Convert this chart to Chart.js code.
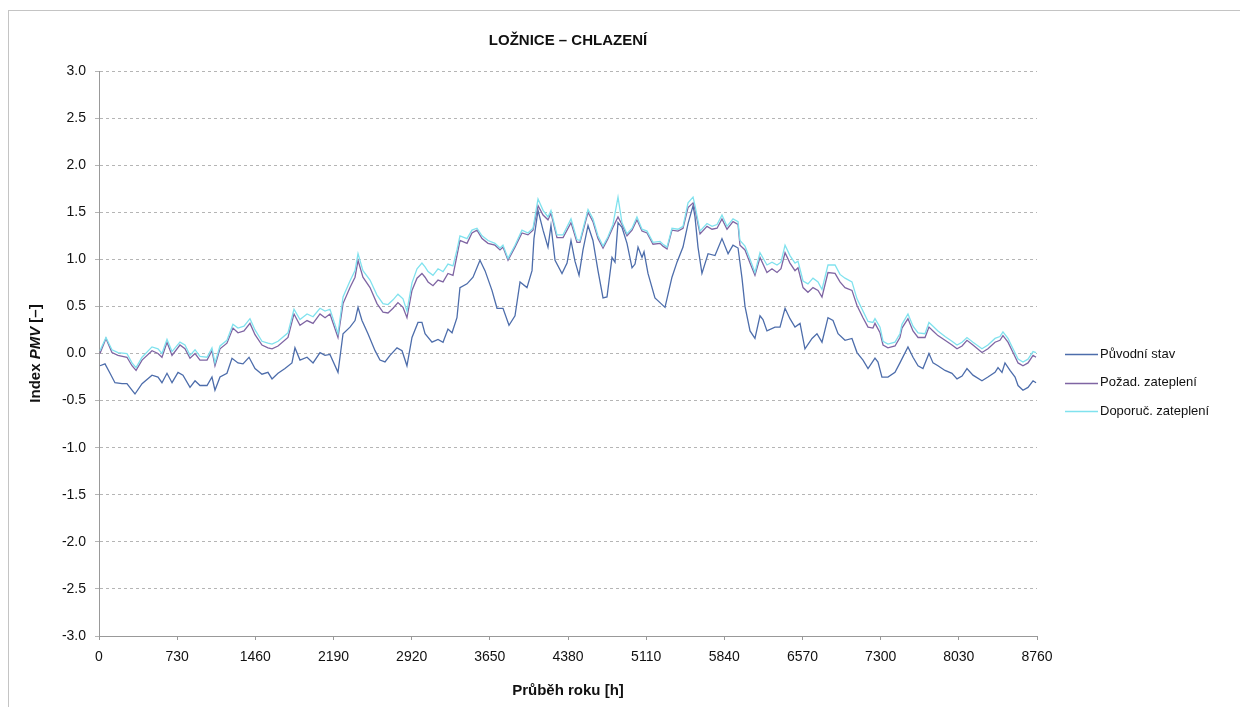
<!DOCTYPE html>
<html><head><meta charset="utf-8">
<script src="https://cdn.jsdelivr.net/npm/chart.js@4.4.1/dist/chart.umd.min.js"></script>
<style>html,body{margin:0;padding:0;background:#fff;}#wrap{width:1240px;height:707px;position:relative;}</style>
</head><body><div id="wrap"><canvas id="c" width="1240" height="707"></canvas></div>
<script>
const chartTitle = 'LOŽNICE – CHLAZENÍ';
const xTitle = 'Průběh roku [h]';
const yTitleParts = ['Index ', 'PMV', ' [–]'];
const seriesNames = ['Původní stav', 'Požad. zateplení', 'Doporuč. zateplení'];
const xTicks = [0,730,1460,2190,2920,3650,4380,5110,5840,6570,7300,8030,8760];
const yMin = -3, yMax = 3, yStep = 0.5;

const hoursA = [9,56,103,149,215,261,308,336,402,495,551,588,635,682,738,784,850,897,943,1009,1055,1083,1130,1195,1242,1298,1345,1401,1457,1522,1578,1616,1672,1737,1802,1830,1877,1943,1999,2064,2111,2157,2232,2279,2344,2391,2419,2456,2512,2578,2624,2671,2718,2783,2830,2876,2923,2979,3016,3045,3110,3166,3213,3259,3297,3343,3371,3437,3493,3558,3605,3670,3717,3773,3829,3885,3932,3997,4044,4062,4100,4147,4193,4221,4259,4324,4371,4408,4445,4483,4520,4567,4613,4660,4707,4744,4791,4819,4847,4884,4931,4978,5006,5034,5071,5090,5127,5192,5239,5286,5351,5398,5454,5501,5548,5566,5594,5631,5688,5753,5818,5875,5921,5968,6005,6033,6080,6126,6173,6201,6238,6313,6360,6407,6453,6500,6547,6593,6659,6705,6752,6808,6855,6902,6967,7032,7079,7135,7182,7247,7275,7312,7368,7434,7480,7555,7602,7649,7695,7751,7789,7835,7901,7966,8013,8060,8106,8162,8246,8302,8368,8396,8433,8461,8508,8555,8583,8629,8676,8723,8751];
const puvodni = [-0.13,-0.11,-0.21,-0.31,-0.32,-0.32,-0.39,-0.43,-0.32,-0.23,-0.25,-0.31,-0.21,-0.31,-0.2,-0.23,-0.36,-0.29,-0.34,-0.34,-0.25,-0.39,-0.25,-0.21,-0.05,-0.1,-0.11,-0.04,-0.16,-0.22,-0.2,-0.27,-0.21,-0.16,-0.1,0.06,-0.07,-0.04,-0.1,0.01,-0.02,-0.01,-0.2,0.21,0.28,0.35,0.49,0.35,0.21,0.03,-0.07,-0.09,-0.02,0.06,0.03,-0.13,0.17,0.33,0.33,0.21,0.12,0.15,0.12,0.26,0.22,0.38,0.70,0.74,0.81,0.99,0.88,0.67,0.48,0.48,0.30,0.40,0.76,0.70,0.88,1.22,1.52,1.31,1.13,1.36,0.99,0.85,0.96,1.2,0.98,0.83,1.1,1.36,1.2,0.88,0.59,0.6,1.02,0.97,1.39,1.34,1.17,0.91,0.95,1.13,1.02,1.08,0.85,0.59,0.54,0.49,0.81,0.97,1.13,1.38,1.57,1.45,1.13,0.85,1.06,1.04,1.22,1.06,1.15,1.12,0.8,0.5,0.24,0.16,0.40,0.36,0.24,0.28,0.28,0.48,0.37,0.28,0.32,0.05,0.16,0.21,0.12,0.38,0.35,0.21,0.14,0.16,0.01,-0.07,-0.16,-0.05,-0.09,-0.25,-0.25,-0.2,-0.1,0.07,-0.04,-0.13,-0.16,0.0,-0.1,-0.13,-0.18,-0.21,-0.27,-0.24,-0.16,-0.23,-0.29,-0.25,-0.2,-0.15,-0.2,-0.1,-0.18,-0.25,-0.34,-0.39,-0.36,-0.29,-0.31];

const hoursB = [9,65,121,177,261,308,346,402,495,551,588,635,682,756,803,850,897,943,1009,1055,1083,1130,1195,1251,1298,1354,1410,1457,1522,1578,1616,1672,1765,1821,1877,1943,1999,2064,2111,2157,2232,2279,2344,2391,2419,2465,2531,2596,2652,2699,2746,2792,2839,2876,2923,2970,3016,3045,3073,3119,3166,3213,3259,3306,3343,3371,3437,3483,3530,3577,3633,3698,3745,3773,3820,3885,3950,4006,4053,4100,4147,4193,4221,4277,4334,4408,4464,4492,4567,4613,4660,4707,4753,4800,4847,4884,4931,4978,5024,5071,5118,5174,5239,5267,5305,5351,5407,5454,5501,5548,5566,5613,5678,5725,5772,5818,5865,5921,5968,5986,6033,6080,6126,6173,6238,6285,6332,6369,6407,6453,6500,6528,6575,6621,6668,6715,6752,6808,6874,6920,6967,7032,7079,7135,7182,7228,7247,7294,7322,7368,7434,7480,7499,7555,7602,7649,7714,7751,7789,7835,7901,7966,8013,8060,8106,8162,8246,8302,8368,8414,8442,8489,8536,8583,8629,8676,8723,8751];
const pozad = [0.0,0.16,0.01,-0.02,-0.04,-0.13,-0.18,-0.07,0.03,0.0,-0.04,0.12,-0.02,0.09,0.05,-0.05,0.0,-0.07,-0.07,0.03,-0.13,0.05,0.11,0.27,0.22,0.24,0.32,0.2,0.09,0.06,0.05,0.08,0.17,0.42,0.3,0.35,0.32,0.42,0.38,0.42,0.17,0.53,0.70,0.81,0.99,0.81,0.70,0.53,0.44,0.43,0.48,0.54,0.49,0.38,0.67,0.8,0.85,0.81,0.76,0.72,0.78,0.76,0.85,0.83,1.04,1.2,1.17,1.28,1.31,1.22,1.17,1.15,1.1,1.13,0.99,1.13,1.28,1.26,1.31,1.57,1.47,1.42,1.49,1.23,1.23,1.39,1.18,1.18,1.50,1.40,1.22,1.12,1.22,1.34,1.45,1.37,1.25,1.31,1.42,1.30,1.28,1.16,1.17,1.14,1.11,1.31,1.30,1.33,1.55,1.60,1.53,1.27,1.35,1.32,1.33,1.43,1.32,1.40,1.37,1.15,1.10,0.96,0.83,1.02,0.86,0.90,0.86,0.90,1.07,0.96,0.88,0.91,0.70,0.65,0.70,0.67,0.60,0.86,0.85,0.76,0.70,0.67,0.51,0.38,0.28,0.27,0.32,0.22,0.09,0.06,0.08,0.17,0.27,0.37,0.24,0.17,0.17,0.28,0.24,0.19,0.14,0.09,0.05,0.08,0.14,0.09,0.01,0.05,0.12,0.14,0.19,0.12,0.01,-0.1,-0.13,-0.1,-0.02,-0.04];
const doporuc = [0.03,0.17,0.04,0.01,0.0,-0.1,-0.15,-0.04,0.07,0.05,0.0,0.15,0.02,0.12,0.09,-0.02,0.04,-0.03,-0.04,0.06,-0.1,0.08,0.14,0.31,0.27,0.29,0.37,0.25,0.13,0.11,0.1,0.13,0.22,0.47,0.36,0.42,0.39,0.48,0.45,0.47,0.21,0.6,0.77,0.88,1.06,0.88,0.78,0.62,0.53,0.52,0.57,0.63,0.58,0.45,0.75,0.9,0.96,0.92,0.87,0.83,0.9,0.87,0.95,0.93,1.1,1.25,1.22,1.31,1.33,1.25,1.2,1.17,1.12,1.15,1.01,1.15,1.31,1.28,1.33,1.64,1.52,1.45,1.52,1.26,1.26,1.43,1.21,1.2,1.53,1.43,1.25,1.14,1.24,1.37,1.66,1.39,1.27,1.33,1.45,1.32,1.3,1.18,1.19,1.16,1.13,1.33,1.32,1.35,1.6,1.66,1.57,1.3,1.38,1.35,1.37,1.47,1.35,1.43,1.4,1.2,1.14,1.0,0.86,1.07,0.94,0.97,0.94,0.97,1.15,1.04,0.96,0.98,0.77,0.74,0.8,0.76,0.68,0.94,0.94,0.84,0.8,0.76,0.58,0.45,0.34,0.33,0.37,0.28,0.13,0.1,0.12,0.21,0.31,0.42,0.29,0.22,0.21,0.33,0.29,0.24,0.18,0.13,0.09,0.12,0.17,0.12,0.05,0.09,0.16,0.18,0.23,0.16,0.05,-0.06,-0.09,-0.06,0.02,0.01];

const colors = ['#4d6dab', '#7f65a3', '#80e2ee'];
const FONT = '"Liberation Sans", Arial, sans-serif';

function pts(xs, ys) { return xs.map((x, i) => ({x: x, y: ys[i]})); }

const decor = {
  id: 'decor',
  beforeDraw(chart) {
    const ctx = chart.ctx;
    ctx.save();
    ctx.fillStyle = '#ffffff';
    ctx.fillRect(0, 0, chart.width, chart.height);
    ctx.strokeStyle = '#c4c4c4';
    ctx.lineWidth = 1;
    ctx.strokeRect(8.5, 10.5, 1260, 720);
    ctx.restore();
  },
  afterDraw(chart) {
    const ctx = chart.ctx;
    const a = chart.chartArea;
    const cx = (a.left + a.right) / 2;
    ctx.save();
    ctx.fillStyle = '#111';
    ctx.textAlign = 'center';
    ctx.textBaseline = 'middle';
    ctx.font = 'bold 15px ' + FONT;
    ctx.fillText(chartTitle, cx, 41);
    ctx.fillText(xTitle, cx, 691);
    ctx.save();
    ctx.translate(36, (a.top + a.bottom) / 2);
    ctx.rotate(-Math.PI / 2);
    const fonts = ['bold 15px ' + FONT, 'italic bold 15px ' + FONT, 'bold 15px ' + FONT];
    let widths = yTitleParts.map((t, i) => { ctx.font = fonts[i]; return ctx.measureText(t).width; });
    let total = widths.reduce((s, w) => s + w, 0);
    let x = -total / 2;
    ctx.textAlign = 'left';
    yTitleParts.forEach((t, i) => { ctx.font = fonts[i]; ctx.fillText(t, x, 0); x += widths[i]; });
    ctx.restore();
    ctx.font = '13px ' + FONT;
    ctx.textAlign = 'left';
    seriesNames.forEach((name, i) => {
      const y = 354 + i * 28.5;
      ctx.strokeStyle = colors[i];
      ctx.lineWidth = 1.3;
      ctx.beginPath();
      ctx.moveTo(1065, Math.round(y) + 0.5);
      ctx.lineTo(1098, Math.round(y) + 0.5);
      ctx.stroke();
      ctx.fillStyle = '#111';
      ctx.fillText(name, 1100, y);
    });
    ctx.restore();
  }
};

new Chart(document.getElementById('c'), {
  type: 'line',
  data: {
    datasets: [
      { label: seriesNames[0], data: pts(hoursA, puvodni), borderColor: colors[0], order: 2 },
      { label: seriesNames[1], data: pts(hoursB, pozad), borderColor: colors[1], order: 1 },
      { label: seriesNames[2], data: pts(hoursB, doporuc), borderColor: colors[2], order: 0 }
    ]
  },
  options: {
    responsive: false,
    animation: false,
    devicePixelRatio: 1,
    layout: { padding: { top: 71, right: 203, left: 0, bottom: 0 } },
    elements: { line: { borderWidth: 1.3, tension: 0 }, point: { radius: 0 } },
    plugins: { legend: { display: false }, title: { display: false }, tooltip: { enabled: false } },
    scales: {
      x: {
        type: 'linear', min: 0, max: 8760,
        afterBuildTicks(s) { s.ticks = xTicks.map(v => ({ value: v })); },
        afterFit(s) { s.height = 71; },
        grid: { drawOnChartArea: false, drawTicks: true, tickLength: 4, tickColor: '#999' },
        border: { display: true, color: '#999', width: 1 },
        ticks: { color: '#111', font: { family: FONT, size: 14 }, padding: 9, maxRotation: 0, autoSkip: false, callback: v => String(v) }
      },
      y: {
        min: yMin, max: yMax,
        ticks: { stepSize: yStep, color: '#111', font: { family: FONT, size: 14 }, padding: 9, callback: v => v.toFixed(1) },
        afterFit(s) { s.width = 99; },
        grid: { color: '#b5b5b5', tickLength: 4, tickColor: '#b5b5b5' },
        border: { display: true, color: '#999', width: 1, dash: [3, 3] }
      }
    }
  },
  plugins: [decor]
});
</script>
</body></html>
